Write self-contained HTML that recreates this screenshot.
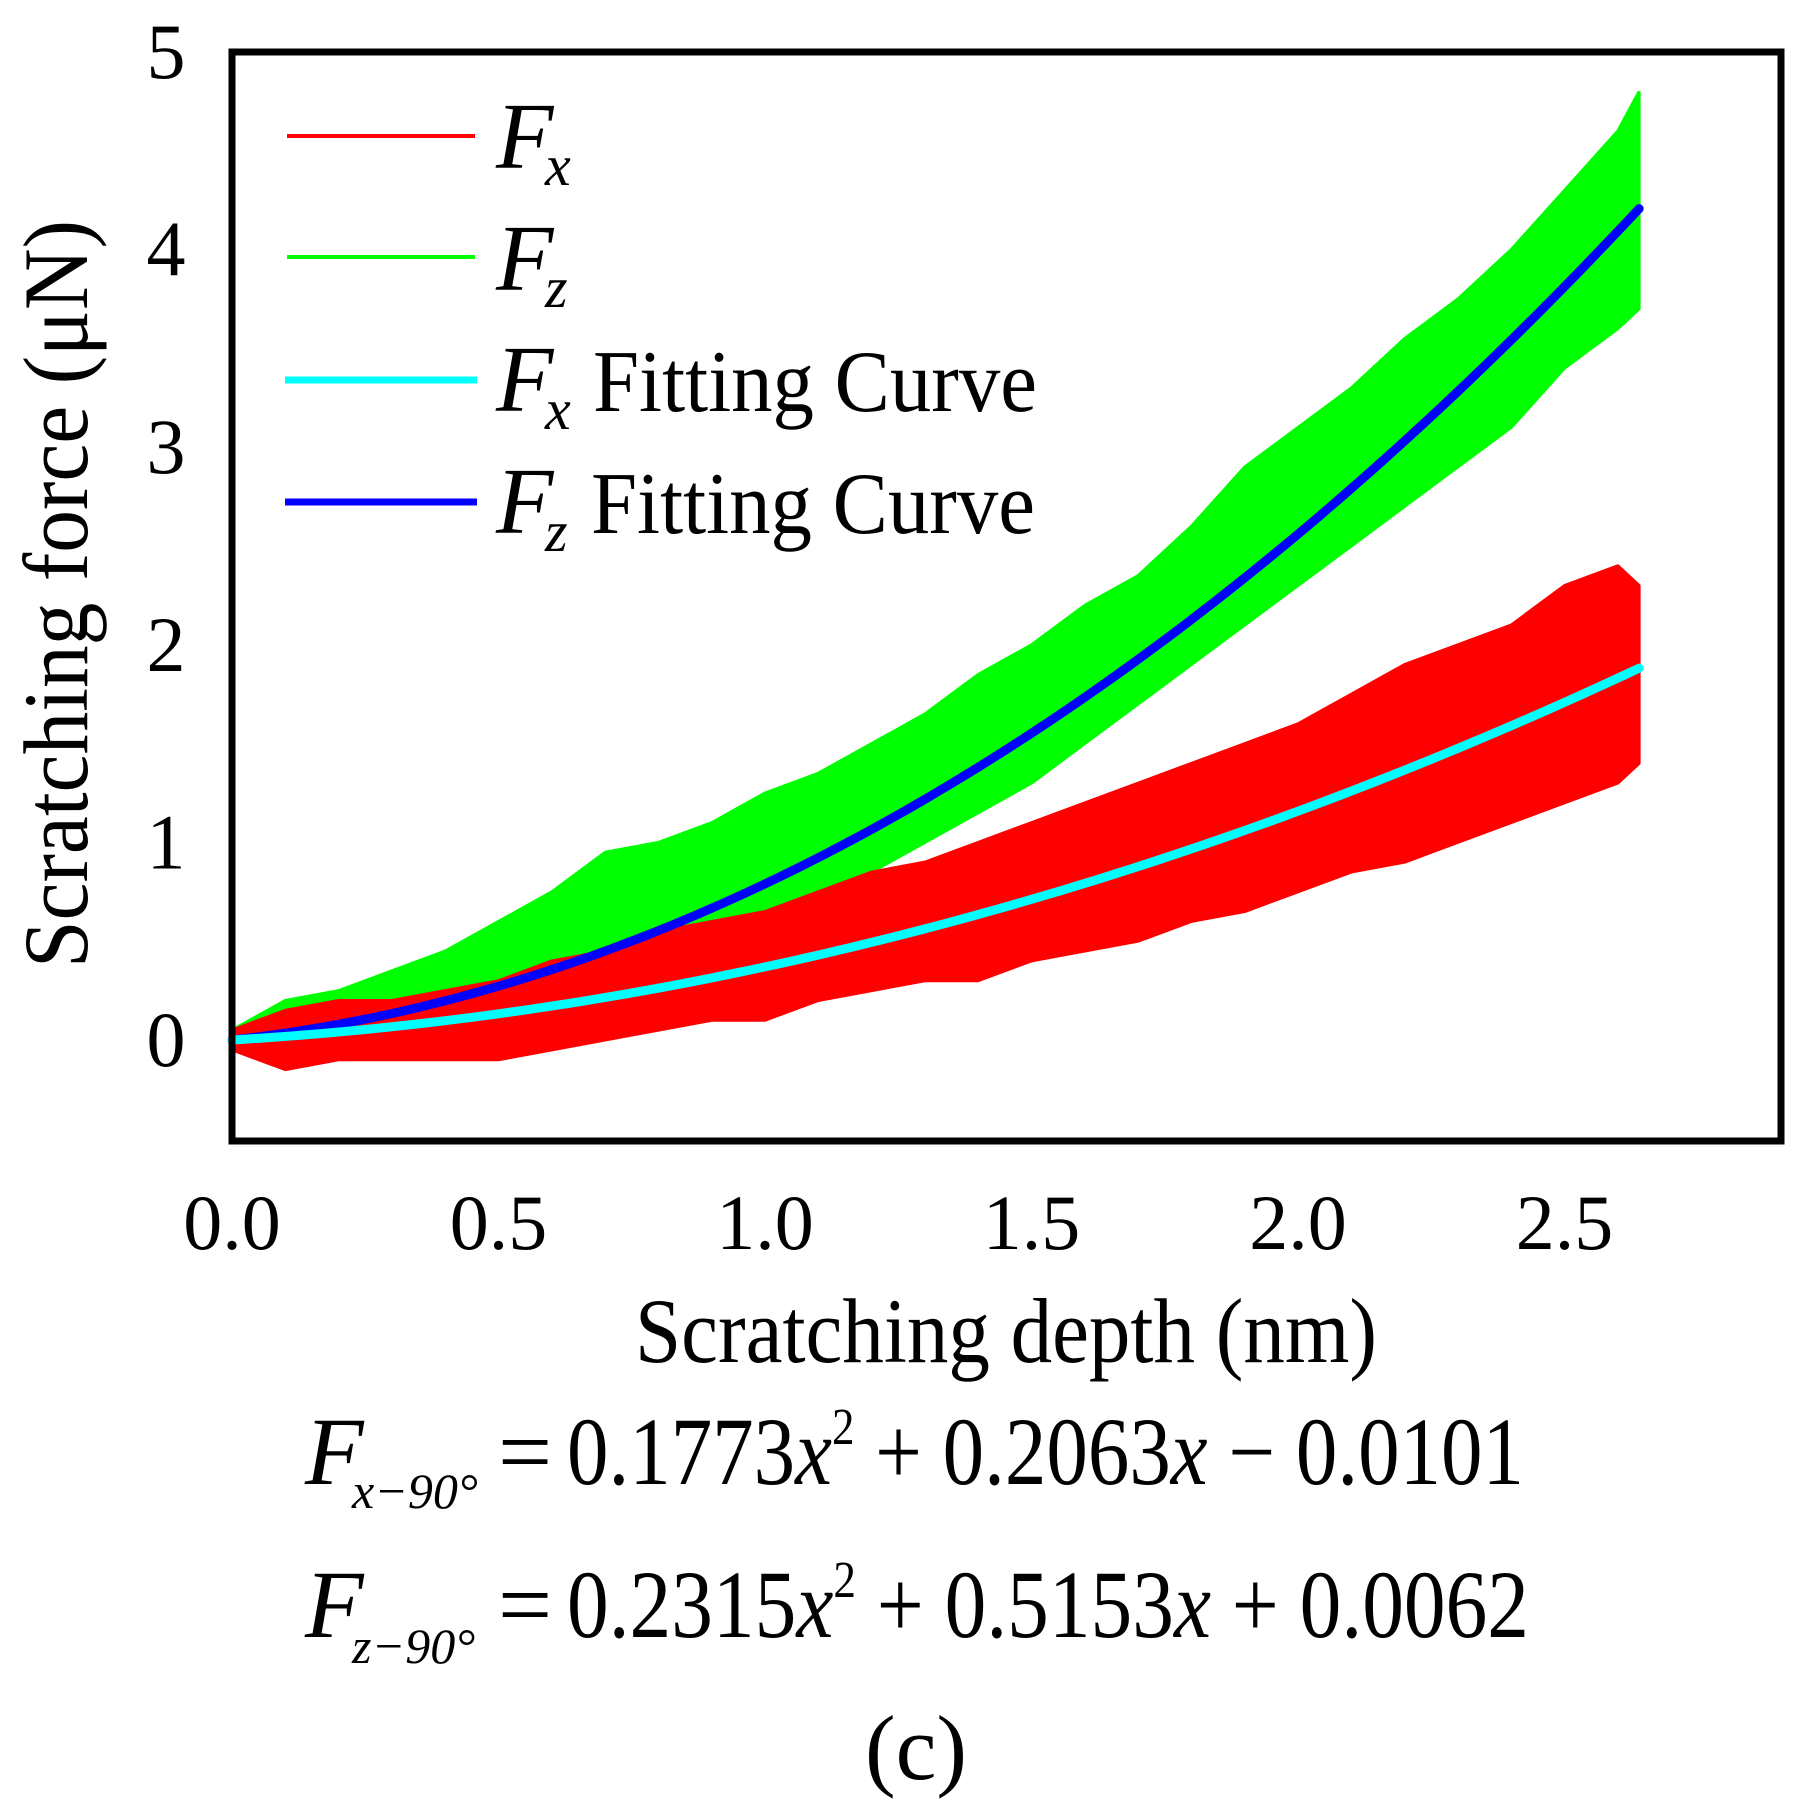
<!DOCTYPE html>
<html><head><meta charset="utf-8"><style>
html,body{margin:0;padding:0;background:#fff;}
svg{display:block;font-family:"Liberation Serif",serif;}
</style></head><body>
<svg id="chart" width="1808" height="1817" viewBox="0 0 1808 1817" xmlns="http://www.w3.org/2000/svg" font-family="Liberation Serif, serif">
<g id="plot"></g>
<rect x="232" y="52" width="1549" height="1089" fill="none" stroke="#000" stroke-width="7"/>
<g id="ticks" font-size="78"></g>
<text x="1006" y="1362" font-size="92" text-anchor="middle" textLength="742" lengthAdjust="spacingAndGlyphs">Scratching depth (nm)</text>
<text transform="translate(87,594) rotate(-90)" font-size="92" text-anchor="middle" textLength="748" lengthAdjust="spacingAndGlyphs">Scratching force  (μN)</text>
<g>
  <line x1="287" y1="136" x2="475" y2="136" stroke="#ff0000" stroke-width="4"/>
  <line x1="287" y1="257" x2="475" y2="257" stroke="#00ff00" stroke-width="4"/>
  <line x1="285" y1="380" x2="477" y2="380" stroke="#00ffff" stroke-width="7"/>
  <line x1="285" y1="502" x2="477" y2="502" stroke="#0000ff" stroke-width="7"/>
  <text x="496" y="168" font-size="94" font-style="italic">F</text>
  <text x="545" y="185" font-size="58" font-style="italic">x</text>
  <text x="496" y="290" font-size="94" font-style="italic">F</text>
  <text x="545" y="307" font-size="58" font-style="italic">z</text>
  <text x="496" y="411" font-size="94" font-style="italic">F</text>
  <text x="545" y="429" font-size="58" font-style="italic">x</text>
  <text x="593" y="411" font-size="88" textLength="444" lengthAdjust="spacingAndGlyphs">Fitting Curve</text>
  <text x="496" y="533" font-size="94" font-style="italic">F</text>
  <text x="545" y="551" font-size="58" font-style="italic">z</text>
  <text x="591" y="533" font-size="88" textLength="444" lengthAdjust="spacingAndGlyphs">Fitting Curve</text>
</g>
<g>
  <text x="305" y="1484" font-size="96" font-style="italic">F</text>
  <text x="352" y="1508" font-size="50" font-style="italic">x−90°</text>
  <text x="498" y="1484" font-size="96">=</text>
  <text x="567" y="1484" font-size="96" textLength="957" lengthAdjust="spacingAndGlyphs">0.1773<tspan font-style="italic">x</tspan><tspan font-size="52" dy="-40">2</tspan><tspan dy="40"> + 0.2063</tspan><tspan font-style="italic">x</tspan> − 0.0101</text>
</g>
<g>
  <text x="305" y="1637" font-size="96" font-style="italic">F</text>
  <text x="352" y="1663" font-size="50" font-style="italic">z−90°</text>
  <text x="498" y="1637" font-size="96">=</text>
  <text x="567" y="1637" font-size="96" textLength="962" lengthAdjust="spacingAndGlyphs">0.2315<tspan font-style="italic">x</tspan><tspan font-size="52" dy="-40">2</tspan><tspan dy="40"> + 0.5153</tspan><tspan font-style="italic">x</tspan> + 0.0062</text>
</g>
<text x="916" y="1779" font-size="92" text-anchor="middle">(c)</text>
</svg>
<script>
const depth = [0,0.1,0.2,0.3,0.4,0.5,0.6,0.7,0.8,0.9,1.0,1.1,1.2,1.3,1.4,1.5,1.6,1.7,1.8,1.9,2.0,2.1,2.2,2.3,2.4,2.5,2.6,2.64];
const fzHigh = [0.05,0.2,0.25,0.35,0.45,0.6,0.75,0.95,1.0,1.1,1.25,1.35,1.5,1.65,1.85,2.0,2.2,2.35,2.6,2.9,3.1,3.3,3.55,3.75,4.0,4.3,4.6,4.8];
const fzLow = [-0.05,-0.12,-0.08,-0.03,0.05,0.15,0.25,0.35,0.45,0.55,0.6,0.75,0.85,1.0,1.15,1.3,1.5,1.7,1.9,2.1,2.3,2.5,2.7,2.9,3.1,3.4,3.6,3.7];
const fxHigh = [0.05,0.15,0.2,0.2,0.25,0.3,0.4,0.45,0.55,0.6,0.65,0.75,0.85,0.9,1.0,1.1,1.2,1.3,1.4,1.5,1.6,1.75,1.9,2.0,2.1,2.3,2.4,2.3];
const fxLow = [-0.05,-0.15,-0.1,-0.1,-0.1,-0.1,-0.05,0.0,0.05,0.1,0.1,0.2,0.25,0.3,0.3,0.4,0.45,0.5,0.6,0.65,0.75,0.85,0.9,1.0,1.1,1.2,1.3,1.4];
const fitFxCoef = [0.209,0.161,0.0];
const fitFzCoef = [0.49,0.30,0.0];
const xTicks = [0,0.5,1.0,1.5,2.0,2.5];
const xTickLabels = ["0.0","0.5","1.0","1.5","2.0","2.5"];
const yTicks = [0,1,2,3,4,5];
const yTickLabels = ["0","1","2","3","4","5"];
const xMaxData = 2.64;

const X0=232, XS=533, Y0=1040, YS=197.6;
function sx(v){return X0+v*XS;}
function sy(v){return Y0-v*YS;}
const NS="http://www.w3.org/2000/svg";
const plot=document.getElementById('plot');
const ticks=document.getElementById('ticks');

function band(hi,lo,color,name){
  let pts=depth.map((d,i)=>sx(d)+','+sy(hi[i]));
  for(let i=depth.length-1;i>=0;i--) pts.push(sx(depth[i])+','+sy(lo[i]));
  const p=document.createElementNS(NS,'polygon');
  p.setAttribute('points',pts.join(' '));
  p.setAttribute('fill',color);
  p.setAttribute('stroke',color);
  p.setAttribute('stroke-width','3');
  p.setAttribute('stroke-linejoin','bevel');
  
  
  plot.appendChild(p);
}
band(fzHigh,fzLow,'#00ff00','fz-series');
band(fxHigh,fxLow,'#ff0000','fx-series');

function fit(c,color,name){
  let pts=[];
  for(let i=0;i<=100;i++){const x=xMaxData*i/100;pts.push(sx(x)+','+sy(c[0]*x*x+c[1]*x+c[2]));}
  const p=document.createElementNS(NS,'polyline');
  p.setAttribute('points',pts.join(' '));
  p.setAttribute('fill','none');
  p.setAttribute('stroke',color);
  p.setAttribute('stroke-width','9');
  p.setAttribute('stroke-linecap','round');
  
  
  plot.appendChild(p);
}
fit(fitFzCoef,'#0000ff','fz-fitting-curve');
fit(fitFxCoef,'#00ffff','fx-fitting-curve');

xTicks.forEach((v,i)=>{
  const t=document.createElementNS(NS,'text');
  t.setAttribute('x',sx(v));t.setAttribute('y',1249);
  t.setAttribute('text-anchor','middle');
  t.textContent=xTickLabels[i];
  
  
  ticks.appendChild(t);
});
yTicks.forEach((v,i)=>{
  const t=document.createElementNS(NS,'text');
  t.setAttribute('x',166);t.setAttribute('y',sy(v)+26);
  t.setAttribute('text-anchor','middle');
  t.textContent=yTickLabels[i];
  
  
  ticks.appendChild(t);
});
</script>
</body></html>
